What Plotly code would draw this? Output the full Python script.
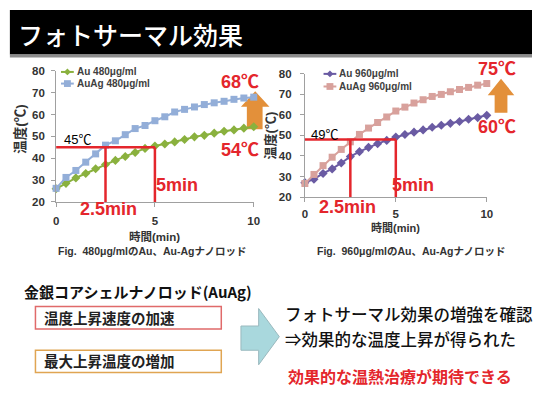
import plotly.graph_objects as go

W, H = 538, 396

# ---------------- data ----------------
time_min = [0, 0.5, 1, 1.5, 2, 2.5, 3, 3.5, 4, 4.5, 5, 5.5, 6, 6.5, 7, 7.5, 8, 8.5, 9, 9.5, 10]
au_480 = [26, 28.5, 31, 33, 35.2, 37.1, 39, 40.8, 42.6, 44.5, 45.6, 46.5, 47.5, 48.6, 49.8, 50.5, 51.5, 52.4, 53, 53.8, 54.4]
auag_480 = [26.2, 31.2, 34.4, 38.2, 42, 46, 48, 50.8, 53.6, 55, 57.2, 59, 61.2, 62.4, 63.5, 64.6, 65.4, 66.1, 67, 67.6, 68]
au_960 = [27, 28.7, 31.5, 33.7, 36.6, 39.7, 42.1, 44.2, 46, 47.6, 49.2, 50.5, 51.6, 52.7, 54, 55, 55.9, 56.8, 57.9, 58.7, 59.8]
auag_960 = [26.6, 31, 35.3, 39.4, 43.2, 46.9, 50.5, 53.6, 56.3, 59, 61.9, 63.8, 65.8, 67.4, 69, 70, 71.3, 72.4, 73.4, 74.5, 75.3]

x_ticks = [0, 5, 10]
y_ticks = [20, 30, 40, 50, 60, 70, 80]

names_1 = ["Au 480μg/ml", "AuAg 480μg/ml"]
names_2 = ["Au 960μg/ml", "AuAg 960μg/ml"]

thr_1, thr_2 = 45, 48
t_half, t_full = 2.5, 5
max_1 = ["68℃", "54℃"]
max_2 = ["75℃", "60℃"]

# ---------------- style ----------------
GREEN = "#8AB13E"
BLUE = "#93AED8"
PURPLE = "#6A5BA3"
PINK = "#D8A19C"
RED = "#E4262C"
ORANGE = "#E3903A"
TXT = "#333333"
LAT = "Liberation Sans, Noto Sans CJK JP, sans-serif"
JP = "Noto Sans CJK JP, sans-serif"

# plot-area boxes in pixels (left, right, bottom, top)
BOX1 = (54, 255, 202, 67)
BOX2 = (307, 492, 197, 70)
XR, YR = (0, 10), (20, 80)


def px(x):
    return x / W


def py(y):
    return 1 - y / H


def d2p(box, xv, yv):
    """map data values of a chart to paper coordinates"""
    l, r, b, t = box
    xpix = l + (xv - XR[0]) / (XR[1] - XR[0]) * (r - l)
    ypix = b - (yv - YR[0]) / (YR[1] - YR[0]) * (b - t)
    return px(xpix), py(ypix)


fig = go.Figure()

fig.add_trace(go.Scatter(x=time_min, y=au_480, mode="lines+markers", name=names_1[0],
                         line=dict(color=GREEN, width=2),
                         marker=dict(symbol="diamond", size=7, color=GREEN),
                         cliponaxis=False, xaxis="x", yaxis="y"))
fig.add_trace(go.Scatter(x=time_min, y=auag_480, mode="lines+markers", name=names_1[1],
                         line=dict(color=BLUE, width=2),
                         marker=dict(symbol="square", size=7, color=BLUE),
                         cliponaxis=False, xaxis="x", yaxis="y"))
fig.add_trace(go.Scatter(x=time_min, y=au_960, mode="lines+markers", name=names_2[0],
                         line=dict(color=PURPLE, width=2),
                         marker=dict(symbol="diamond", size=7, color=PURPLE),
                         cliponaxis=False, xaxis="x2", yaxis="y2"))
fig.add_trace(go.Scatter(x=time_min, y=auag_960, mode="lines+markers", name=names_2[1],
                         line=dict(color=PINK, width=2),
                         marker=dict(symbol="square", size=7, color=PINK),
                         cliponaxis=False, xaxis="x2", yaxis="y2"))

axis_common = dict(showgrid=False, zeroline=False, showline=True, linecolor="#A0A0A0", linewidth=1,
                   ticks="outside", ticklen=4, tickcolor="#A0A0A0",
                   tickfont=dict(family=LAT, size=11.5, color=TXT, weight="bold"))

fig.update_layout(
    width=W, height=H, autosize=False,
    margin=dict(l=0, r=0, t=0, b=0),
    paper_bgcolor="white", plot_bgcolor="rgba(0,0,0,0)",
    showlegend=False,
    xaxis=dict(domain=[px(BOX1[0]), px(BOX1[1])], range=list(XR), tickvals=x_ticks, anchor="y",
               ticklabelstandoff=4, **axis_common),
    yaxis=dict(domain=[py(BOX1[2]), py(BOX1[3])], range=list(YR), tickvals=y_ticks, anchor="x",
               ticklabelstandoff=4, **axis_common),
    xaxis2=dict(domain=[px(BOX2[0]), px(BOX2[1])], range=list(XR), tickvals=x_ticks, anchor="y2",
                ticklabelstandoff=2, **axis_common),
    yaxis2=dict(domain=[py(BOX2[2]), py(BOX2[3])], range=list(YR), tickvals=y_ticks, anchor="x2",
                ticklabelstandoff=6, **axis_common),
)

shapes = []
ann = []

# title bar
shapes.append(dict(type="rect", xref="paper", yref="paper", x0=px(7), x1=1, y0=py(50), y1=py(4),
                   fillcolor="black", line=dict(width=0), layer="above"))
shapes.append(dict(type="rect", xref="paper", yref="paper", x0=px(7), x1=1, y0=py(53), y1=py(50),
                   fillcolor="#8C8C8C", line=dict(width=0), layer="above"))
ann.append(dict(text="フォトサーマル効果", xref="paper", yref="paper", x=px(13), y=py(29),
                xanchor="left", yanchor="middle", showarrow=False,
                font=dict(family=JP, size=25, color="white", weight=500)))

# red guide lines
for xr, yr, thr in (("x", "y", thr_1), ("x2", "y2", thr_2)):
    shapes.append(dict(type="line", xref=xr, yref=yr, x0=0, x1=t_full, y0=thr, y1=thr,
                       line=dict(color=RED, width=2.5), layer="above"))
    for tt in (t_half, t_full):
        shapes.append(dict(type="line", xref=xr, yref=yr, x0=tt, x1=tt, y0=thr, y1=20,
                           line=dict(color=RED, width=2.5), layer="above"))


def up_arrow(xl, xr, sl, sr, tip, base, bottom, color):
    p = (f"M {px(xl)} {py(base)} L {px((xl + xr) / 2)} {py(tip)} L {px(xr)} {py(base)} "
         f"L {px(sr)} {py(base)} L {px(sr)} {py(bottom)} L {px(sl)} {py(bottom)} L {px(sl)} {py(base)} Z")
    return dict(type="path", xref="paper", yref="paper", path=p, fillcolor=color,
                line=dict(width=0), layer="below")


shapes.append(up_arrow(242, 271, 248, 264, 88, 104, 127, ORANGE))
shapes.append(up_arrow(493, 520, 500, 513, 75, 92, 110, ORANGE))


def lab_p(text, x, y, size, color, bold=True, fam=LAT, angle=0):
    ann.append(dict(text=text, x=x, y=y, xref="paper", yref="paper", showarrow=False,
                    xanchor="center", yanchor="middle", textangle=angle,
                    font=dict(family=fam, size=size, color=color, weight="bold" if bold else "normal")))


def lab_d(box, text, xv, yv, size, color, bold=True):
    x, y = d2p(box, xv, yv)
    lab_p(text, x, y, size, color, bold)


# chart 1 labels
lab_d(BOX1, f"{thr_1}℃", 1.1, 48.6, 13, "black", bold=False)
lab_d(BOX1, max_1[0], 9.3, 75.1, 18, RED)
lab_d(BOX1, max_1[1], 9.3, 44.0, 18, RED)
lab_d(BOX1, f"{t_full:g}min", 6.1, 27.6, 18, RED)
lab_d(BOX1, f"{t_half:g}min", 2.64, 16.9, 18, RED)
# chart 2 labels
lab_d(BOX2, "49℃", 1.08, 50.7, 13, "black", bold=False)
lab_d(BOX2, max_2[0], 10.54, 82.4, 18, RED)
lab_d(BOX2, max_2[1], 10.54, 54.0, 18, RED)
lab_d(BOX2, f"{t_full:g}min", 5.95, 25.7, 18, RED)
lab_d(BOX2, f"{t_half:g}min", 2.32, 15.3, 18, RED)

# axis titles & captions
lab_p("温度(℃)", px(17), py(127), 13.5, TXT, angle=-90)
lab_p("温度(℃)", px(273), py(133), 13, TXT, angle=-90)
lab_p("時間(min)", px(154), py(238), 11.5, TXT)
lab_p("時間(min)", px(399), py(228), 11, TXT)
lab_p("Fig.  480μg/mlのAu、Au-Agナノロッド", px(152), py(253), 10.5, TXT)
lab_p("Fig.  960μg/mlのAu、Au-Agナノロッド", px(415), py(253), 10.5, TXT)


# manual legends
def legend_item(x0, y, color, symbol, text):
    shapes.append(dict(type="line", xref="paper", yref="paper", x0=px(x0), x1=px(x0 + 13),
                       y0=py(y), y1=py(y), line=dict(color=color, width=2), layer="above"))
    cx, r = x0 + 6.5, 3.5
    if symbol == "square":
        shapes.append(dict(type="rect", xref="paper", yref="paper", x0=px(cx - r), x1=px(cx + r),
                           y0=py(y + r), y1=py(y - r), fillcolor=color, line=dict(width=0), layer="above"))
    else:
        p = f"M {px(cx - r)} {py(y)} L {px(cx)} {py(y - r)} L {px(cx + r)} {py(y)} L {px(cx)} {py(y + r)} Z"
        shapes.append(dict(type="path", xref="paper", yref="paper", path=p, fillcolor=color,
                           line=dict(width=0), layer="above"))
    ann.append(dict(text=text, x=px(x0 + 14), y=py(y), xref="paper", yref="paper", showarrow=False,
                    xanchor="left", yanchor="middle",
                    font=dict(family=LAT, size=10, color="#404040", weight="bold")))


legend_item(59, 68, GREEN, "diamond", names_1[0])
legend_item(59, 80, BLUE, "square", names_1[1])
legend_item(326, 70, PURPLE, "diamond", names_2[0])
legend_item(326, 83, PINK, "square", names_2[1])

# bottom summary section
ann.append(dict(text="<b>金銀コアシェルナノロッド(AuAg)</b>", x=px(19), y=py(294), xref="paper", yref="paper",
                showarrow=False, xanchor="left", yanchor="middle",
                font=dict(family=JP, size=15, color="#111111")))
shapes.append(dict(type="rect", xref="paper", yref="paper", x0=px(33), x1=px(222), y0=py(333), y1=py(310),
                   line=dict(color="#E06A6A", width=1.5), fillcolor="rgba(0,0,0,0)"))
shapes.append(dict(type="rect", xref="paper", yref="paper", x0=px(33), x1=px(222), y0=py(378), y1=py(355),
                   line=dict(color="#E0A552", width=1.5), fillcolor="rgba(0,0,0,0)"))
for txt, yy in (("温度上昇速度の加速", 321), ("最大上昇温度の増加", 366)):
    ann.append(dict(text=f"<b>{txt}</b>", x=px(40), y=py(yy), xref="paper", yref="paper",
                    showarrow=False, xanchor="left", yanchor="middle",
                    font=dict(family=JP, size=14.5, color="#222222")))

# light blue block arrow
p = (f"M {px(242)} {py(330)} L {px(260)} {py(330)} L {px(260)} {py(312)} L {px(281)} {py(341)} "
     f"L {px(260)} {py(370)} L {px(260)} {py(355)} L {px(242)} {py(355)} Z")
shapes.append(dict(type="path", xref="paper", yref="paper", path=p, fillcolor="#A9D8DD",
                   line=dict(color="#9AB9BE", width=1)))

ann.append(dict(text="フォトサーマル効果の増強を確認", x=px(285), y=py(318), xref="paper", yref="paper",
                showarrow=False, xanchor="left", yanchor="middle",
                font=dict(family=JP, size=16.5, color="#111111", weight=500)))
ann.append(dict(text="⇒効果的な温度上昇が得られた", x=px(285), y=py(343), xref="paper", yref="paper",
                showarrow=False, xanchor="left", yanchor="middle",
                font=dict(family=JP, size=16.5, color="#111111", weight=500)))
ann.append(dict(text="<b>効果的な温熱治療が期待できる</b>", x=px(288), y=py(382), xref="paper", yref="paper",
                showarrow=False, xanchor="left", yanchor="middle",
                font=dict(family=JP, size=16, color=RED)))

fig.update_layout(shapes=shapes, annotations=ann)
fig.write_html("out.html")
